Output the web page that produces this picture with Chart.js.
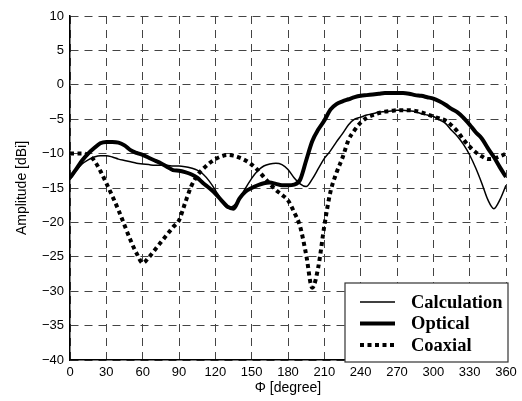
<!DOCTYPE html>
<html>
<head>
<meta charset="utf-8">
<script src="https://cdn.jsdelivr.net/npm/chart.js@4"></script>
<style>
  body { margin: 0; background: #fff; }
  #wrap { width: 522px; height: 401px; }
</style>
</head>
<body>
<div id="wrap"><canvas id="patternChart" width="522" height="401"></canvas></div>
<script>
// Angles (degree), one value every 5 degrees
const angles = [];
for (let a = 0; a <= 360; a += 5) angles.push(a);

const calculation = [
  -13.8, -12.5, -11.5, -10.9, -10.5, -10.3, -10.3, -10.5, -10.8, -11.0,
  -11.2, -11.4, -11.5, -11.6, -11.7, -11.7, -11.7, -11.8, -11.8, -11.9,
  -12.1, -12.4, -13.0, -14.0, -15.3, -16.8, -17.9, -17.6, -16.5, -15.0,
  -13.6, -12.5, -11.8, -11.5, -11.4, -11.6, -12.3, -13.5, -14.4, -14.8,
  -13.7, -12.2, -10.7, -9.6, -8.3, -7.1, -5.8, -5.0, -4.7, -4.4,
  -4.2, -4.0, -3.9, -3.8, -3.7, -3.7, -3.8, -3.9, -4.2, -4.4,
  -4.6, -5.1, -5.6, -6.6, -7.5, -8.7, -10.2, -12.1, -14.3, -16.7,
  -18.0, -16.7, -14.6
];

const optical = [
  -13.5, -12.3, -11.0, -10.0, -9.2, -8.5, -8.3, -8.3, -8.4, -8.8,
  -9.5, -9.9, -10.2, -10.6, -11.0, -11.4, -11.9, -12.4, -12.5, -12.7,
  -13.0, -13.5, -14.3, -15.0, -15.8, -16.8, -17.7, -18.0, -16.5, -15.5,
  -15.0, -14.6, -14.3, -14.2, -14.4, -14.6, -14.6, -14.5, -13.8, -11.0,
  -8.2, -6.5, -5.2, -3.6, -2.8, -2.4, -2.1, -1.8, -1.6, -1.5,
  -1.4, -1.3, -1.2, -1.2, -1.2, -1.2, -1.3, -1.5, -1.6, -1.8,
  -2.0, -2.4, -2.9, -3.5, -4.0, -4.8, -5.8, -6.9, -7.8, -9.2,
  -10.5, -12.0, -13.4
];

const coaxial = [
  -10.0, -10.0, -10.0, -10.2, -11.0, -12.5, -14.3, -16.2, -18.2, -20.4,
  -22.6, -24.5, -25.9, -25.1, -24.0, -22.9, -21.8, -20.7, -19.7, -17.2,
  -14.8, -13.2, -12.2, -11.4, -10.8, -10.4, -10.2, -10.3, -10.6, -11.0,
  -11.6, -12.4, -13.4, -14.4, -15.3, -16.0, -16.8, -18.5, -20.6, -24.7,
  -29.5, -26.5, -20.5, -15.6, -12.8, -10.6, -8.0, -6.6, -5.5, -4.8,
  -4.4, -4.1, -3.9, -3.8, -3.7, -3.7, -3.7, -3.8, -4.0, -4.3,
  -4.6, -4.9, -5.2, -5.9, -6.8, -8.0, -9.0, -9.8, -10.4, -10.8,
  -10.7, -10.4, -10.0
];

const xTicks = [0, 30, 60, 90, 120, 150, 180, 210, 240, 270, 300, 330, 360];
const yTicks = [10, 5, 0, -5, -10, -15, -20, -25, -30, -35, -40];

function toPoints(values) {
  return values.map((v, i) => ({ x: angles[i], y: v }));
}

// Legend box drawn inside the plot, bottom right
const boxLegend = {
  id: 'boxLegend',
  afterDraw(chart) {
    const ctx = chart.ctx;
    const area = chart.chartArea;
    const right = area.right + 2;
    const bottom = area.bottom + 2;
    const left = right - 163;
    const top = bottom - 79;
    ctx.save();
    ctx.fillStyle = '#fff';
    ctx.fillRect(left, top, right - left, bottom - top);
    ctx.strokeStyle = '#333';
    ctx.lineWidth = 1.2;
    ctx.strokeRect(left, top, right - left, bottom - top);
    ctx.font = 'bold 18.5px "Liberation Serif", "Times New Roman", serif';
    ctx.textBaseline = 'middle';
    ctx.fillStyle = '#000';
    chart.data.datasets.forEach((ds, i) => {
      const y = top + 19 + i * 21.5;
      ctx.beginPath();
      ctx.lineWidth = ds.borderWidth;
      ctx.strokeStyle = '#000';
      ctx.setLineDash(ds.borderDash || []);
      ctx.moveTo(left + 15, y);
      ctx.lineTo(left + 50, y);
      ctx.stroke();
      ctx.setLineDash([]);
      ctx.fillText(ds.label, left + 66, y + 1);
    });
    ctx.restore();
  }
};

const ctx = document.getElementById('patternChart').getContext('2d');

new Chart(ctx, {
  type: 'line',
  data: {
    datasets: [{
      label: 'Calculation',
      data: toPoints(calculation),
      borderColor: '#000',
      borderWidth: 1.5,
      pointRadius: 0,
      cubicInterpolationMode: 'monotone'
    }, {
      label: 'Optical',
      data: toPoints(optical),
      borderColor: '#000',
      borderWidth: 4,
      pointRadius: 0,
      cubicInterpolationMode: 'monotone'
    }, {
      label: 'Coaxial',
      data: toPoints(coaxial),
      borderColor: '#000',
      borderWidth: 4,
      borderDash: [4, 3.5],
      pointRadius: 0,
      cubicInterpolationMode: 'monotone'
    }]
  },
  options: {
    responsive: false,
    animation: false,
    layout: { padding: { top: 16, right: 16, left: 0, bottom: 0 } },
    plugins: {
      legend: { display: false },
      tooltip: { enabled: false }
    },
    scales: {
      x: {
        type: 'linear',
        min: 0,
        max: 360,
        afterBuildTicks: axis => { axis.ticks = xTicks.map(v => ({ value: v })); },
        afterFit: axis => { axis.height = 41; },
        ticks: {
          color: '#000',
          font: { family: '"Liberation Sans", Arial, sans-serif', size: 13 },
          padding: 5,
          maxRotation: 0
        },
        grid: { color: '#444', lineWidth: 1, drawTicks: false },
        border: { color: '#000', width: 1.5, dash: [8, 6] },
        title: {
          display: true,
          text: 'Φ [degree]',
          color: '#000',
          font: { family: '"Liberation Sans", Arial, sans-serif', size: 14 },
          padding: { top: 3 }
        }
      },
      y: {
        min: -40,
        max: 10,
        afterBuildTicks: axis => { axis.ticks = yTicks.map(v => ({ value: v })); },
        afterFit: axis => { axis.width = 70; },
        ticks: {
          color: '#000',
          font: { family: '"Liberation Sans", Arial, sans-serif', size: 13 },
          padding: 6,
          callback: v => (v < 0 ? '\u2212' + Math.abs(v) : String(v))
        },
        grid: { color: '#444', lineWidth: 1, drawTicks: false },
        border: { color: '#000', width: 1.5, dash: [8, 6] },
        title: {
          display: true,
          text: 'Amplitude [dBi]',
          color: '#000',
          font: { family: '"Liberation Sans", Arial, sans-serif', size: 14 },
          padding: { top: 14, bottom: 2 }
        }
      }
    }
  },
  plugins: [boxLegend]
});
</script>
</body>
</html>
